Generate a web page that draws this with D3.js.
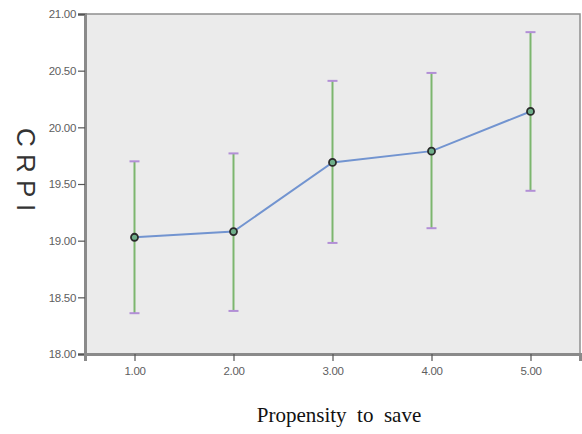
<!DOCTYPE html>
<html>
<head>
<meta charset="utf-8">
<script src="https://cdn.jsdelivr.net/npm/d3@7"></script>
<style>
  body { margin: 0; background: white; }
  .tick text { font-family: "Liberation Sans", Arial, sans-serif; font-size: 11.5px; fill: #5e5e5e; letter-spacing: -0.3px; }
</style>
</head>
<body>
<div id="viz1"></div>
<script>
// data
const categories = [1, 2, 3, 4, 5];
const means = [19.03, 19.08, 19.69, 19.79, 20.14];
const upper = [19.70, 19.77, 20.41, 20.48, 20.84];
const lower = [18.36, 18.38, 18.98, 19.11, 19.44];
const yTicks = [18, 18.5, 19, 19.5, 20, 20.5, 21];

const ChartWidth = 582;
const ChartHeight = 434;
const PlotLeft = 85;
const PlotRight = 580;
const PlotTop = 14;
const PlotBottom = 354;

const data1 = categories.map((c, i) => ({cat: c, mean: means[i], hi: upper[i], lo: lower[i]}));

let viz1 = d3.select("#viz1").append("svg").attr("width", ChartWidth).attr("height", ChartHeight);

const xScale = d3.scaleLinear().domain([0.5, 5.5]).range([PlotLeft, PlotRight]);
const yScale = d3.scaleLinear().domain([18, 21]).range([PlotBottom, PlotTop]);

// plot background + frame
viz1.append("rect")
  .attr("x", PlotLeft).attr("y", PlotTop)
  .attr("width", PlotRight - PlotLeft).attr("height", PlotBottom - PlotTop)
  .attr("fill", "#ebebeb")
  .attr("stroke", "#8f8f8f").attr("stroke-width", 1.5);

// axes
const yAxis = d3.axisLeft(yScale).tickValues(yTicks).tickFormat(d3.format(".2f")).tickSize(7).tickPadding(2);
const gy = viz1.append("g").attr("transform", `translate(${PlotLeft},0)`).call(yAxis);
gy.select(".domain").attr("stroke", "#8a8a8a").attr("stroke-width", 3);
gy.selectAll(".tick line").attr("stroke", "#555").attr("stroke-width", 1.2);

const xAxis = d3.axisBottom(xScale).tickValues(categories).tickFormat(d3.format(".2f")).tickSize(7).tickPadding(6);
const gx = viz1.append("g").attr("transform", `translate(0,${PlotBottom})`).call(xAxis);
gx.select(".domain").attr("stroke", "#8a8a8a").attr("stroke-width", 3);
gx.selectAll(".tick line").attr("stroke", "#555").attr("stroke-width", 1.2);

// error bars
const bars = viz1.append("g").attr("class", "errbars").selectAll("g")
  .data(data1).enter().append("g");

bars.append("line")
  .attr("x1", d => xScale(d.cat)).attr("x2", d => xScale(d.cat))
  .attr("y1", d => yScale(d.hi)).attr("y2", d => yScale(d.lo))
  .attr("stroke", "#7cb66e").attr("stroke-width", 2);

bars.selectAll("line.cap")
  .data(d => [{cat: d.cat, v: d.hi}, {cat: d.cat, v: d.lo}])
  .enter().append("line")
  .attr("class", "cap")
  .attr("x1", d => xScale(d.cat) - 5).attr("x2", d => xScale(d.cat) + 5)
  .attr("y1", d => yScale(d.v)).attr("y2", d => yScale(d.v))
  .attr("stroke", "#b28fd6").attr("stroke-width", 2);

// mean line
const line = d3.line().x(d => xScale(d.cat)).y(d => yScale(d.mean));
viz1.append("path")
  .datum(data1)
  .attr("d", line)
  .attr("fill", "none")
  .attr("stroke", "#7294d0").attr("stroke-width", 2);

viz1.append("g").selectAll("circle")
  .data(data1).enter().append("circle")
  .attr("cx", d => xScale(d.cat)).attr("cy", d => yScale(d.mean))
  .attr("r", 3.5)
  .attr("fill", "#6fae8a")
  .attr("stroke", "#2a2a2a").attr("stroke-width", 1.8);

// y label, rotated letters
viz1.append("text")
  .text("C R P I")
  .attr("transform", "translate(17,128) rotate(90)")
  .attr("font-family", "Liberation Sans, Arial, sans-serif")
  .attr("font-size", 26)
  .attr("fill", "#333");

// x title
viz1.append("text")
  .text("Propensity  to  save")
  .attr("x", 339).attr("y", 422)
  .attr("text-anchor", "middle")
  .style("white-space", "pre")
  .attr("font-family", "Liberation Serif, Times New Roman, serif")
  .attr("font-size", 21)
  .attr("fill", "#111");
</script>
</body>
</html>
